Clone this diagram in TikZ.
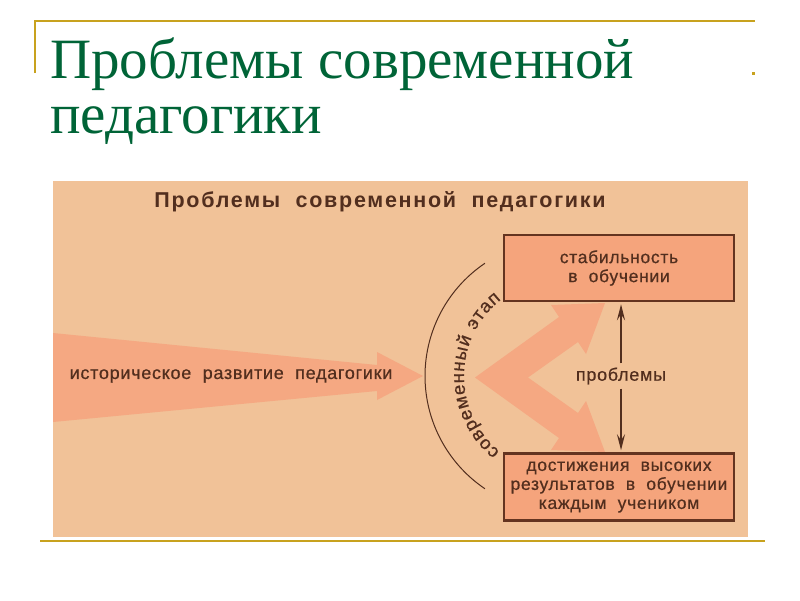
\documentclass[tikz,border=0pt]{standalone}
\usepackage{fontspec}
\setmainfont{Liberation Sans}
\newfontfamily\slidefont{Liberation Serif}
\newfontfamily\diagfont[LetterSpace=4,FakeBold=0.6]{Liberation Sans}
\newfontfamily\headfont[LetterSpace=8]{Liberation Sans}
\usetikzlibrary{positioning,arrows.meta,decorations.text}

\definecolor{slidegold}{RGB}{200,162,30}
\definecolor{slidegreen}{RGB}{0,100,55}
\definecolor{panel}{RGB}{241,194,152}
\definecolor{flow}{RGB}{245,168,130}
\definecolor{boxfill}{RGB}{245,164,124}
\definecolor{ink}{RGB}{82,46,30}
\definecolor{rim}{RGB}{100,52,32}

\begin{document}
\begin{tikzpicture}[x=1pt, y=1pt,
		rule/.style={slidegold, line width=2.5pt},
		heading/.style={anchor=base west, inner sep=0pt, text=slidegreen, font=\slidefont\fontsize{57}{60}\selectfont},
		stagebox/.style={rectangle, draw=rim, line width=2.5pt, fill=boxfill, minimum width=230pt, minimum height=66pt, align=center, text=ink, font=\diagfont\fontsize{17.5}{19}\selectfont},
		caption/.style={text=ink, font=\diagfont\fontsize{18}{20}\selectfont},
		flowshape/.style={fill=flow},
		link/.style={draw=ink, line width=2pt, -{Stealth[length=16pt,width=8pt,inset=6pt]}, shorten >=2pt}
	]
	\useasboundingbox (0,0) rectangle (800,-600);
	% slide frame
	\draw[rule] (35,-73) -- (35,-21) -- (755,-21);
	\fill[slidegold] (752,-72) rectangle (755,-75);
	\draw[rule] (40,-541) -- (765,-541);
	\node[heading] (ttlone) at (50,-78) {Проблемы современной};
	\node[heading] (ttltwo) at (50,-133) {педагогики};
	% panel
	\fill[panel] (53,-181) rectangle (748,-537);
	\node[text=ink, font=\headfont\bfseries\fontsize{21.5}{23}\selectfont] (paneltitle) at (380,-202) {Проблемы\ \ современной\ \ педагогики};
	% broad arrows
	\fill[flowshape] (53,-333) -- (377,-365) -- (377,-352) -- (423,-376) -- (377,-400) -- (377,-391) -- (53,-422) -- cycle;
	\fill[flowshape] (475,-377.5) -- (559,-317) -- (551,-305) -- (605,-303) -- (586,-354) -- (578,-342) -- (528,-377.5)
		-- (578,-413) -- (586,-401) -- (605,-452) -- (551,-450) -- (559,-438) -- cycle;
	\node[caption] (history) at (231,-376) {историческое\ \ развитие\ \ педагогики};
	% targets
	\node[stagebox] (stab) at (619,-268) {стабильность\\в\ \ обучении};
	\node[stagebox, minimum height=67pt] (dost) [below=150pt of stab] {достижения\ \ высоких\\результатов\ \ в\ \ обучении\\каждым\ \ учеником};
	\node[caption, inner sep=4pt] (prob) at (621,-376) {проблемы};
	\draw[link] (prob.north) -- (prob.north |- stab.south);
	\draw[link] (prob.south) -- (prob.south |- dost.north);
	% present stage
	\coordinate (hub) at (561,-376);
	\draw[ink, line width=1pt] ([shift={(124:136)}]hub) arc[start angle=124, end angle=236, radius=136];
	\path[decorate, decoration={text along path, text align=fit to path,
		text={|\diagfont\fontsize{18.5}{20}\selectfont\color{ink}|современный этап}}]
		([shift={(231:97)}]hub) arc[start angle=231, end angle=128, radius=97];
\end{tikzpicture}
\end{document}
